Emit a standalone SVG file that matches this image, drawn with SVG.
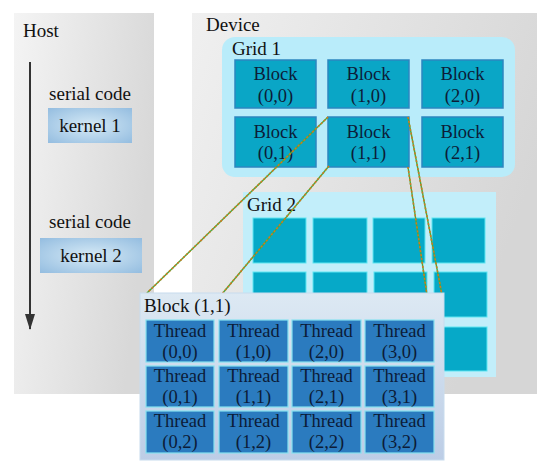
<svg xmlns="http://www.w3.org/2000/svg" width="550" height="470" viewBox="0 0 550 470">
<defs>
<linearGradient id="hostG" x1="0" y1="0" x2="1" y2="0.3"><stop offset="0" stop-color="#f4f4f4"/><stop offset="1" stop-color="#d8d8d8"/></linearGradient>
<linearGradient id="devG" x1="0" y1="0" x2="1" y2="0.4"><stop offset="0" stop-color="#f0f0f0"/><stop offset="1" stop-color="#d6d6d6"/></linearGradient>
<radialGradient id="kG" cx="0.5" cy="0.5" r="0.7"><stop offset="0" stop-color="#d6eaf6"/><stop offset="1" stop-color="#94bde0"/></radialGradient>
<linearGradient id="bpG" x1="0" y1="0" x2="0" y2="1"><stop offset="0" stop-color="#dde9f3"/><stop offset="1" stop-color="#bccde6"/></linearGradient>
<marker id="arr" viewBox="0 0 16 10" refX="15" refY="5" markerWidth="16" markerHeight="10" markerUnits="userSpaceOnUse" orient="auto"><path d="M0,0 L16,5 L0,10 Z" fill="#333"/></marker>
</defs>
<style>
text{font-family:"Liberation Serif","Times New Roman",serif;fill:#111}
.lbl{font-size:19px}
.cell{font-size:18.5px;fill:#0c1c38;text-anchor:middle}
.blk{fill:#0aa6c6;stroke:#2d86c0;stroke-width:1.5}
.g2b{fill:#06a9c8;stroke:#5fe6f2;stroke-width:1}
.thr{fill:#2b7bbf;stroke:#86e2f0;stroke-width:1.2}
.ker{fill:url(#kG)}
.dg{stroke:#4ca83c;stroke-width:1.4;fill:none}
.do{stroke:#cf7a22;stroke-width:1.6;stroke-dasharray:2 2;fill:none}
</style>

<g id="host">
<rect x="14" y="13" width="140" height="381" fill="url(#hostG)"/>
<text class="lbl" x="23" y="37">Host</text>
<text class="lbl" x="90" y="100" text-anchor="middle">serial code</text>
<text class="lbl" x="90" y="228" text-anchor="middle">serial code</text>
</g>
<g id="kernel1">
<rect class="ker" x="48" y="108" width="84" height="35"/>
<text class="lbl" x="90" y="132" text-anchor="middle">kernel 1</text>
</g>
<g id="kernel2">
<rect class="ker" x="40" y="238" width="102" height="35"/>
<text class="lbl" x="91" y="262" text-anchor="middle">kernel 2</text>
</g>

<g id="device">
<rect x="192" y="13" width="345" height="381" fill="url(#devG)"/>
<text class="lbl" x="206" y="31">Device</text>
</g>

<g id="grid1">
<rect x="222" y="37" width="293" height="140" rx="13" fill="#b9ecfa"/>
<text class="lbl" x="232" y="55">Grid 1</text>
<rect class="blk" x="235" y="60" width="81" height="48"/>
<text class="cell" x="275.5" y="80">Block</text><text class="cell" x="275.5" y="102">(0,0)</text>
<rect class="blk" x="328" y="60" width="81" height="48"/>
<text class="cell" x="368.5" y="80">Block</text><text class="cell" x="368.5" y="102">(1,0)</text>
<rect class="blk" x="422" y="60" width="81" height="48"/>
<text class="cell" x="462.5" y="80">Block</text><text class="cell" x="462.5" y="102">(2,0)</text>
<rect class="blk" x="235" y="117" width="81" height="50"/>
<text class="cell" x="275.5" y="138">Block</text><text class="cell" x="275.5" y="159">(0,1)</text>
<rect class="blk" x="328" y="117" width="81" height="50"/>
<text class="cell" x="368.5" y="138">Block</text><text class="cell" x="368.5" y="159">(1,1)</text>
<rect class="blk" x="422" y="117" width="81" height="50"/>
<text class="cell" x="462.5" y="138">Block</text><text class="cell" x="462.5" y="159">(2,1)</text>
</g>

<g id="grid2">
<rect x="243" y="192" width="253" height="185" fill="#c2eefa"/>
<text class="lbl" x="247" y="211">Grid 2</text>
<rect class="g2b" x="253" y="218" width="53" height="45"/>
<rect class="g2b" x="313" y="218" width="54" height="45"/>
<rect class="g2b" x="373" y="218" width="52" height="45"/>
<rect class="g2b" x="432" y="218" width="53" height="45"/>
<rect class="g2b" x="253" y="272" width="53" height="45"/>
<rect class="g2b" x="313" y="272" width="54" height="45"/>
<rect class="g2b" x="374" y="272" width="53" height="45"/>
<rect class="g2b" x="434" y="272" width="53" height="45"/>
<rect class="g2b" x="434" y="327" width="53" height="44"/>
</g>

<g id="connectors">
<line x1="30" y1="62" x2="30" y2="329" stroke="#333" stroke-width="2" marker-end="url(#arr)"/>
<line class="dg" x1="328" y1="117" x2="147" y2="293"/><line class="do" x1="328" y1="117" x2="147" y2="293"/>
<line class="dg" x1="329" y1="166" x2="222" y2="294"/><line class="do" x1="329" y1="166" x2="222" y2="294"/>
<line class="dg" x1="408" y1="117" x2="442" y2="295"/><line class="do" x1="408" y1="117" x2="442" y2="295"/>
<line class="dg" x1="408" y1="167" x2="427" y2="295"/><line class="do" x1="408" y1="167" x2="427" y2="295"/>
</g>

<g id="block11">
<rect x="140" y="293" width="304" height="167" fill="url(#bpG)" stroke="#c8dcee" stroke-width="1"/>
<text class="lbl" x="144" y="312">Block (1,1)</text>
<rect class="thr" x="146" y="320" width="68" height="42"/><text class="cell" x="180" y="337">Thread</text><text class="cell" x="180" y="358">(0,0)</text>
<rect class="thr" x="219" y="320" width="69" height="42"/><text class="cell" x="253.5" y="337">Thread</text><text class="cell" x="253.5" y="358">(1,0)</text>
<rect class="thr" x="292" y="320" width="69" height="42"/><text class="cell" x="326.5" y="337">Thread</text><text class="cell" x="326.5" y="358">(2,0)</text>
<rect class="thr" x="365" y="320" width="69" height="42"/><text class="cell" x="399.5" y="337">Thread</text><text class="cell" x="399.5" y="358">(3,0)</text>
<rect class="thr" x="146" y="366" width="68" height="41"/><text class="cell" x="180" y="382">Thread</text><text class="cell" x="180" y="403">(0,1)</text>
<rect class="thr" x="219" y="366" width="69" height="41"/><text class="cell" x="253.5" y="382">Thread</text><text class="cell" x="253.5" y="403">(1,1)</text>
<rect class="thr" x="292" y="366" width="69" height="41"/><text class="cell" x="326.5" y="382">Thread</text><text class="cell" x="326.5" y="403">(2,1)</text>
<rect class="thr" x="365" y="366" width="69" height="41"/><text class="cell" x="399.5" y="382">Thread</text><text class="cell" x="399.5" y="403">(3,1)</text>
<rect class="thr" x="146" y="411" width="68" height="42"/><text class="cell" x="180" y="427">Thread</text><text class="cell" x="180" y="448">(0,2)</text>
<rect class="thr" x="219" y="411" width="69" height="42"/><text class="cell" x="253.5" y="427">Thread</text><text class="cell" x="253.5" y="448">(1,2)</text>
<rect class="thr" x="292" y="411" width="69" height="42"/><text class="cell" x="326.5" y="427">Thread</text><text class="cell" x="326.5" y="448">(2,2)</text>
<rect class="thr" x="365" y="411" width="69" height="42"/><text class="cell" x="399.5" y="427">Thread</text><text class="cell" x="399.5" y="448">(3,2)</text>
</g>
</svg>
